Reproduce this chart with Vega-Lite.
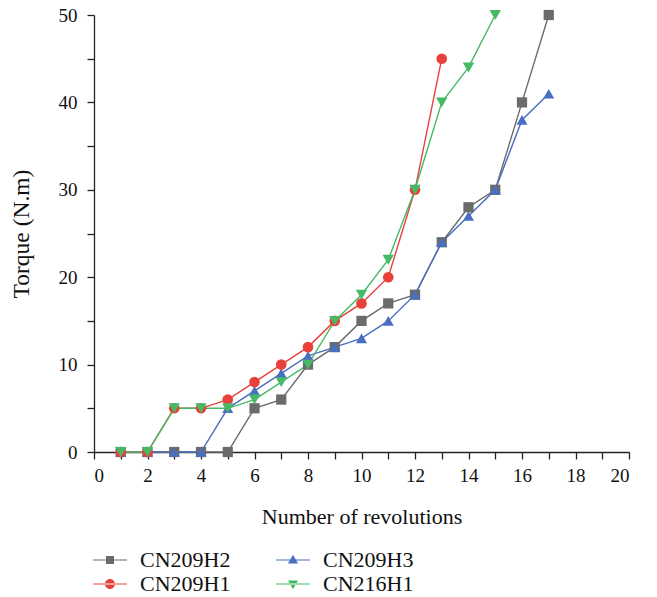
{
  "$schema": "https://vega.github.io/schema/vega-lite/v6.json",
  "autosize": "none",
  "width": 535,
  "height": 437,
  "padding": {"left": 94, "top": 15, "right": 28, "bottom": 145},
  "config": {
    "view": {"stroke": null},
    "font": "Liberation Serif",
    "axis": {"grid": false, "domainColor": "#222", "tickColor": "#222", "labelColor": "#111", "titleColor": "#111", "labelFont": "Liberation Serif", "titleFont": "Liberation Serif", "labelFontSize": 19, "titleFontSize": 22, "titleFontWeight": "normal", "domainWidth": 1.3, "tickWidth": 1.3},
    "legend": {"labelFont": "Liberation Serif", "labelFontSize": 22, "labelColor": "#111"}
  },
  "data": {"values": [
    {"s": "CN209H2", "x": 1, "y": 0}, {"s": "CN209H2", "x": 2, "y": 0}, {"s": "CN209H2", "x": 3, "y": 0}, {"s": "CN209H2", "x": 4, "y": 0}, {"s": "CN209H2", "x": 5, "y": 0}, {"s": "CN209H2", "x": 6, "y": 5}, {"s": "CN209H2", "x": 7, "y": 6}, {"s": "CN209H2", "x": 8, "y": 10}, {"s": "CN209H2", "x": 9, "y": 12}, {"s": "CN209H2", "x": 10, "y": 15}, {"s": "CN209H2", "x": 11, "y": 17}, {"s": "CN209H2", "x": 12, "y": 18}, {"s": "CN209H2", "x": 13, "y": 24}, {"s": "CN209H2", "x": 14, "y": 28}, {"s": "CN209H2", "x": 15, "y": 30}, {"s": "CN209H2", "x": 16, "y": 40}, {"s": "CN209H2", "x": 17, "y": 50},
    {"s": "CN209H3", "x": 1, "y": 0}, {"s": "CN209H3", "x": 2, "y": 0}, {"s": "CN209H3", "x": 3, "y": 0}, {"s": "CN209H3", "x": 4, "y": 0}, {"s": "CN209H3", "x": 5, "y": 5}, {"s": "CN209H3", "x": 6, "y": 7}, {"s": "CN209H3", "x": 7, "y": 9}, {"s": "CN209H3", "x": 8, "y": 11}, {"s": "CN209H3", "x": 9, "y": 12}, {"s": "CN209H3", "x": 10, "y": 13}, {"s": "CN209H3", "x": 11, "y": 15}, {"s": "CN209H3", "x": 12, "y": 18}, {"s": "CN209H3", "x": 13, "y": 24}, {"s": "CN209H3", "x": 14, "y": 27}, {"s": "CN209H3", "x": 15, "y": 30}, {"s": "CN209H3", "x": 16, "y": 38}, {"s": "CN209H3", "x": 17, "y": 41},
    {"s": "CN209H1", "x": 1, "y": 0}, {"s": "CN209H1", "x": 2, "y": 0}, {"s": "CN209H1", "x": 3, "y": 5}, {"s": "CN209H1", "x": 4, "y": 5}, {"s": "CN209H1", "x": 5, "y": 6}, {"s": "CN209H1", "x": 6, "y": 8}, {"s": "CN209H1", "x": 7, "y": 10}, {"s": "CN209H1", "x": 8, "y": 12}, {"s": "CN209H1", "x": 9, "y": 15}, {"s": "CN209H1", "x": 10, "y": 17}, {"s": "CN209H1", "x": 11, "y": 20}, {"s": "CN209H1", "x": 12, "y": 30}, {"s": "CN209H1", "x": 13, "y": 45},
    {"s": "CN216H1", "x": 1, "y": 0}, {"s": "CN216H1", "x": 2, "y": 0}, {"s": "CN216H1", "x": 3, "y": 5}, {"s": "CN216H1", "x": 4, "y": 5}, {"s": "CN216H1", "x": 5, "y": 5}, {"s": "CN216H1", "x": 6, "y": 6}, {"s": "CN216H1", "x": 7, "y": 8}, {"s": "CN216H1", "x": 8, "y": 10}, {"s": "CN216H1", "x": 9, "y": 15}, {"s": "CN216H1", "x": 10, "y": 18}, {"s": "CN216H1", "x": 11, "y": 22}, {"s": "CN216H1", "x": 12, "y": 30}, {"s": "CN216H1", "x": 13, "y": 40}, {"s": "CN216H1", "x": 14, "y": 44}, {"s": "CN216H1", "x": 15, "y": 50}
  ]},
  "encoding": {
    "x": {"field": "x", "type": "quantitative", "scale": {"domain": [0, 20], "nice": false, "zero": false},
      "axis": {"title": "Number of revolutions", "values": [0,1,2,3,4,5,6,7,8,9,10,11,12,13,14,15,16,17,18,19,20], "labelExpr": "datum.value % 2 == 0 ? datum.label : ''", "tickSize": 7, "labelPadding": 7, "titlePadding": 21,
        "encode": {"ticks": {"update": {"y2": {"signal": "datum.value % 2 == 0 ? 7 : 3"}}}}}},
    "y": {"field": "y", "type": "quantitative", "scale": {"domain": [0, 50], "nice": false},
      "axis": {"title": "Torque (N.m)", "titleFontSize": 23.5, "values": [0,5,10,15,20,25,30,35,40,45,50], "labelExpr": "datum.value % 10 == 0 ? datum.label : ''", "tickSize": 7, "labelPadding": 10, "titlePadding": 25,
        "encode": {"ticks": {"update": {"x2": {"signal": "datum.value % 10 == 0 ? -7 : -3"}}}}}}
  },
  "resolve": {"scale": {"shape": "independent", "color": "independent", "size": "independent"}},
  "layer": [
    {"mark": {"type": "line", "strokeWidth": 1.4},
     "encoding": {"color": {"field": "s", "type": "nominal", "scale": {"domain": ["CN209H2", "CN209H1", "CN209H3", "CN216H1"], "range": ["#6b6b6b", "#e8413c", "#4a6fc0", "#45b963"]}, "legend": null}}},
    {"mark": {"type": "point", "filled": true, "opacity": 1},
     "encoding": {
       "color": {"field": "s", "type": "nominal", "scale": {"domain": ["CN209H2", "CN209H1", "CN209H3", "CN216H1"], "range": ["#6b6b6b", "#e8413c", "#4a6fc0", "#45b963"]}, "legend": null},
       "shape": {"field": "s", "type": "nominal", "scale": {"domain": ["CN209H2", "CN209H1", "CN209H3", "CN216H1"], "range": ["square", "circle", "triangle-up", "triangle-down"]}, "legend": null},
       "size": {"field": "s", "type": "nominal", "scale": {"domain": ["CN209H2", "CN209H1", "CN209H3", "CN216H1"], "range": [105, 130, 200, 200]}, "legend": null}}},
    {"transform": [{"filter": "datum.x > 100"}],
     "mark": {"type": "point", "filled": true, "opacity": 1},
     "encoding": {
       "color": {"field": "s", "type": "nominal", "scale": {"domain": ["CN209H2", "CN209H1", "CN209H3", "CN216H1"], "range": ["#6b6b6b", "#e8413c", "#4a6fc0", "#45b963"]},
         "legend": {"title": null, "orient": "none", "legendX": 5, "legendY": 534, "columns": 2, "direction": "vertical", "symbolSize": 100, "labelOffset": 19, "columnPadding": 45, "rowPadding": 2, "symbolStrokeWidth": 0, "symbolOpacity": 1}},
       "shape": {"field": "s", "type": "nominal",
        "scale": {"domain": ["CN209H2", "CN209H1", "CN209H3", "CN216H1"],
          "range": [
            "M-3.4,-0.12H3.4V0.12H-3.4Z M-0.8,-0.8H0.8V0.8H-0.8Z",
            "M-3.4,-0.12H3.4V0.12H-3.4Z M-1,0A1,1 0 1,0 1,0A1,1 0 1,0 -1,0Z",
            "M-3.4,-0.12H3.4V0.12H-3.4Z M0,-1.05L1.0,0.7H-1.0Z",
            "M-3.4,-0.12H3.4V0.12H-3.4Z M0,1.05L1.0,-0.7H-1.0Z"
          ]},
        "legend": {"title": null, "orient": "none", "legendX": 5, "legendY": 534, "columns": 2, "direction": "vertical", "symbolSize": 100, "labelOffset": 19, "columnPadding": 45, "rowPadding": 2, "symbolStrokeWidth": 0, "symbolOpacity": 1}}}}
  ]
}
